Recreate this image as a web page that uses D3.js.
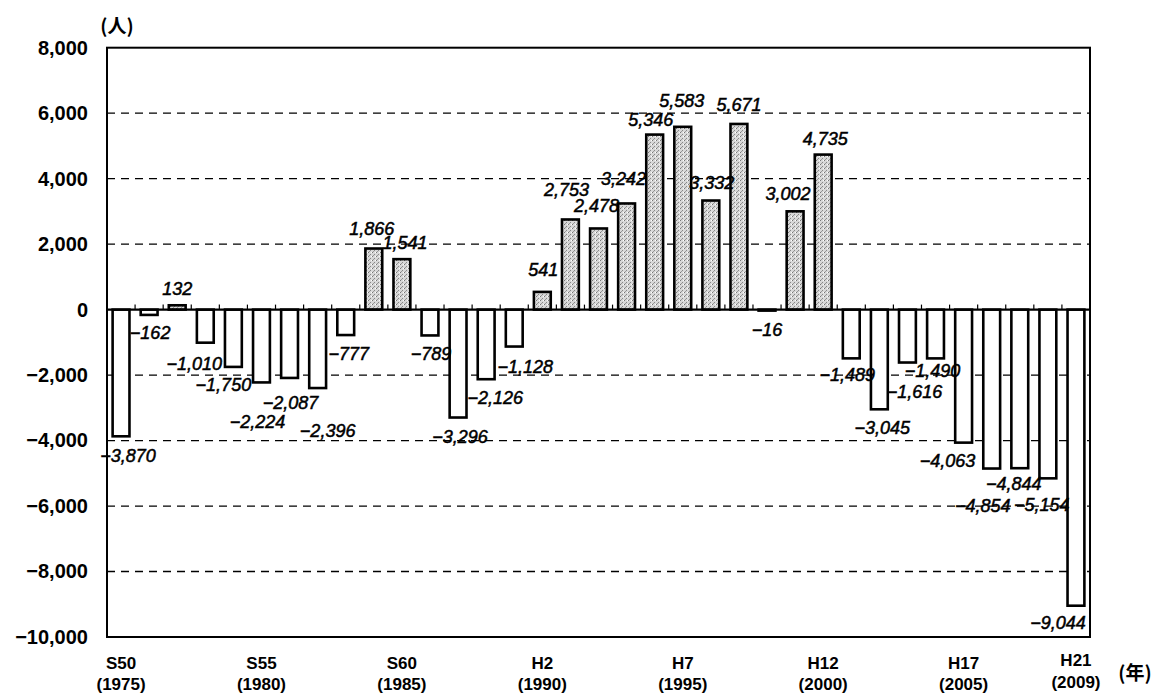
<!DOCTYPE html>
<html><head><meta charset="utf-8">
<script src="https://cdn.jsdelivr.net/npm/d3@7"></script>
<style>body{margin:0;background:#fff}svg{display:block}</style>
</head><body>
<svg id="c" width="1158" height="695"></svg>
<script>
// ---- data ----
const years = [1975,1976,1977,1978,1979,1980,1981,1982,1983,1984,1985,1986,1987,1988,1989,1990,1991,1992,1993,1994,1995,1996,1997,1998,1999,2000,2001,2002,2003,2004,2005,2006,2007,2008,2009];
const values = [-3870,-162,132,-1010,-1750,-2224,-2087,-2396,-777,1866,1541,-789,-3296,-2126,-1128,541,2753,2478,3242,5346,5583,3332,5671,-16,3002,4735,-1489,-3045,-1616,-1490,-4063,-4854,-4844,-5154,-9044];
const tickYears = [1975,1980,1985,1990,1995,2000,2005,2009];
const tickEra = ["S50","S55","S60","H2","H7","H12","H17","H21"];
const yTicks = [8000,6000,4000,2000,0,-2000,-4000,-6000,-8000,-10000];
const yUnit = "(人)";
const xUnit = "(年)";
// label nudges (layout only)
const labelNudge = [[7,20],[1,18],[0,-16],[-11,21],[-10,18],[-4,40],[1,25],[10,43],[3,19],[-2,-20],[3,-16],[1,19],[2,19],[9,19],[11,20],[1,-22],[-4,-29],[-2,-22],[-3,-24],[-4,-15],[-1,-26],[1,-18],[0,-19],[0,20],[-7,-17],[2,-16],[-4,17],[3,19],[7,29],[-3,13],[-16,18],[-9,37],[-6,16],[-6,27],[-18,17]];

const svg = d3.select("#c");
const L = 107, R = 1090, T = 47.7, B = 637;
const x = d3.scaleBand().domain(years).range([L, R]).paddingInner(0.4).paddingOuter(0.2);
const y = d3.scaleLinear().domain([-10000, 8000]).range([B, T]);
const fmt = d3.format(",");

// pattern for positive bars
const defs = svg.append("defs");
const pat = defs.append("pattern").attr("id","dots").attr("patternUnits","userSpaceOnUse").attr("width",4).attr("height",4);
pat.append("rect").attr("width",4).attr("height",4).attr("fill","#d8d8d8");
pat.append("rect").attr("x",0).attr("y",0).attr("width",1).attr("height",1).attr("fill","#777");
pat.append("rect").attr("x",2).attr("y",2).attr("width",1).attr("height",1).attr("fill","#888");
pat.append("rect").attr("x",3).attr("y",0).attr("width",1).attr("height",1).attr("fill","#fff");
pat.append("rect").attr("x",1).attr("y",3).attr("width",1).attr("height",1).attr("fill","#999");

// gridlines
svg.append("g").selectAll("line").data(yTicks.filter(d => d !== 0 && d !== 8000 && d !== -10000))
  .join("line").attr("x1", L).attr("x2", R).attr("y1", d => y(d)).attr("y2", d => y(d))
  .attr("stroke","#000").attr("stroke-width",1.3).attr("stroke-dasharray","8,6");

// frame
svg.append("rect").attr("x",L).attr("y",T).attr("width",R-L).attr("height",B-T)
  .attr("fill","none").attr("stroke","#000").attr("stroke-width",2);

// y axis labels
const yAxis = d3.axisLeft(y).tickValues(yTicks).tickFormat(fmt).tickSize(0).tickPadding(19);
const ya = svg.append("g").attr("transform",`translate(${L},0)`).call(yAxis);
ya.select(".domain").remove();
ya.selectAll("text").attr("font-family","'Liberation Sans', Arial, sans-serif").attr("font-size",20).attr("font-weight","bold").attr("fill","#000");

// bars
svg.append("g").selectAll("rect").data(values).join("rect")
  .attr("x", (d,i) => x(years[i]))
  .attr("width", x.bandwidth())
  .attr("y", d => y(Math.max(0,d)))
  .attr("height", d => Math.max(1, Math.abs(y(d) - y(0))))
  .attr("fill", d => d > 0 ? "url(#dots)" : "#fff")
  .attr("stroke","#000").attr("stroke-width",2.6);

// zero line with ticks
svg.append("line").attr("x1",L).attr("x2",R).attr("y1",y(0)).attr("y2",y(0)).attr("stroke","#000").attr("stroke-width",2.2);
svg.append("g").selectAll("line").data(years.slice(1)).join("line")
  .attr("x1", d => x(d) - x.step()*x.paddingInner()/2).attr("x2", d => x(d) - x.step()*x.paddingInner()/2)
  .attr("y1", y(0)).attr("y2", y(0)-5).attr("stroke","#000").attr("stroke-width",1.2);

// value labels
svg.append("g").selectAll("text").data(values).join("text")
  .attr("x", (d,i) => x(years[i]) + x.bandwidth()/2 + labelNudge[i][0])
  .attr("y", (d,i) => y(d) + labelNudge[i][1])
  .attr("text-anchor","middle").attr("dominant-baseline","central")
  .attr("font-family","'Liberation Sans', Arial, sans-serif").attr("font-style","italic")
  .attr("font-size",18).attr("fill","#000").attr("stroke","#000").attr("stroke-width",0.5)
  .text(d => fmt(d));

// x tick labels
const xg = svg.append("g");
tickYears.forEach((yr, k) => {
  const cx = x(yr) + x.bandwidth()/2;
  const last = k === tickYears.length - 1;
  xg.append("text").attr("x", cx).attr("y", last ? 660 : 663).attr("text-anchor","middle").attr("dominant-baseline","central")
    .attr("font-family","'Liberation Sans', Arial, sans-serif").attr("font-size",17).attr("font-weight","bold").text(tickEra[k]);
  xg.append("text").attr("x", cx).attr("y", last ? 682 : 684).attr("text-anchor","middle").attr("dominant-baseline","central")
    .attr("font-family","'Liberation Sans', Arial, sans-serif").attr("font-size",17).attr("font-weight","bold").text("(" + yr + ")");
});

// unit labels
svg.append("text").attr("x",117).attr("y",24).attr("text-anchor","middle").attr("dominant-baseline","central")
  .attr("font-family","'Noto Sans CJK JP', sans-serif").attr("font-size",19).attr("font-weight","bold").text(yUnit);
svg.append("text").attr("x",1135).attr("y",671).attr("text-anchor","middle").attr("dominant-baseline","central")
  .attr("font-family","'Noto Sans CJK JP', sans-serif").attr("font-size",19).attr("font-weight","bold").text(xUnit);
</script>
</body></html>
